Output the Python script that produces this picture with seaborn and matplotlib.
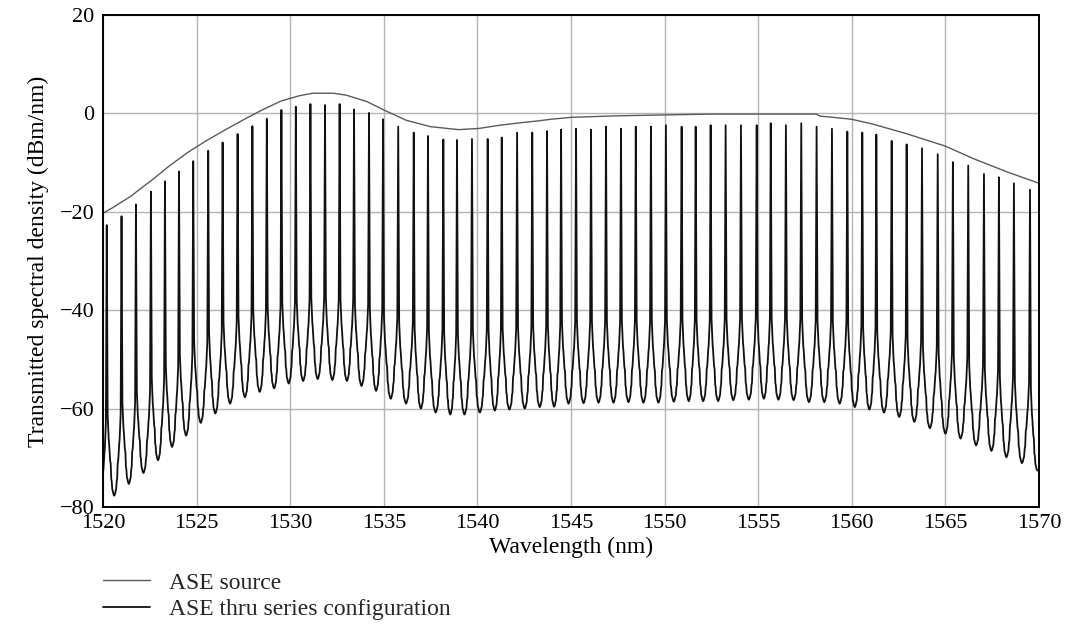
import numpy as np
import pandas as pd
import matplotlib
matplotlib.use("Agg")
import matplotlib.pyplot as plt
import seaborn as sns
from matplotlib.lines import Line2D

# ---------------- data ----------------
# ASE source envelope (wavelength nm, dBm/nm)
env_wl = [1520.0, 1520.5, 1521.0, 1521.5, 1522.0, 1522.6, 1523.5, 1524.5, 1525.5,
          1526.5, 1527.5, 1528.5, 1529.5, 1530.5, 1531.2, 1532.3, 1533.0, 1534.1,
          1535.0, 1536.2, 1537.5, 1539.0, 1540.1, 1541.2, 1542.3, 1543.3, 1543.9,
          1545.0, 1547.4, 1552.4, 1558.1, 1558.3, 1559.0, 1560.0, 1561.15, 1562.9,
          1565.0, 1566.5, 1568.3, 1570.0]
env_db = [-20.3, -19.2, -18.0, -16.8, -15.3, -13.6, -10.8, -8.0, -5.6,
          -3.4, -1.3, 0.7, 2.5, 3.6, 4.1, 4.1, 3.7, 2.4,
          0.7, -1.4, -2.7, -3.3, -3.05, -2.4, -1.9, -1.5, -1.2,
          -0.8, -0.5, -0.14, -0.14, -0.55, -0.8, -1.2, -2.2, -4.1,
          -6.65, -9.2, -11.9, -14.2]

# Comb transmission peaks (wavelength nm, dBm/nm)
peak_wl = [1520.20, 1520.99, 1521.76, 1522.56, 1523.31, 1524.06, 1524.82, 1525.62,
           1526.39, 1527.19, 1527.98, 1528.75, 1529.53, 1530.30, 1531.08, 1531.86,
           1532.64, 1533.41, 1534.21, 1534.96, 1535.77, 1536.60, 1537.36, 1538.18,
           1538.91, 1539.71, 1540.55, 1541.30, 1542.12, 1542.93, 1543.72, 1544.47,
           1545.27, 1546.07, 1546.87, 1547.67, 1548.46, 1549.27, 1550.07, 1550.91,
           1551.66, 1552.46, 1553.26, 1554.08, 1554.92, 1555.67, 1556.48, 1557.30,
           1558.12, 1558.94, 1559.76, 1560.56, 1561.31, 1562.13, 1562.93, 1563.75,
           1564.59, 1565.40, 1566.22, 1567.06, 1567.86, 1568.66, 1569.52]
peak_db = [-22.7, -20.9, -18.5, -15.9, -13.8, -11.8, -9.7, -7.6,
           -5.9, -4.2, -2.6, -1.1, 0.7, 1.35, 1.9, 1.7,
           1.9, 0.8, 0.1, -1.2, -2.7, -3.9, -4.6, -5.3,
           -5.4, -5.2, -5.2, -4.9, -3.9, -3.9, -3.6, -3.3,
           -3.1, -3.3, -2.7, -3.1, -2.7, -2.7, -2.4, -2.7,
           -2.7, -2.4, -2.4, -2.4, -2.4, -2.0, -2.4, -2.0,
           -2.7, -3.1, -3.7, -3.9, -4.3, -5.6, -6.3, -7.1,
           -8.3, -9.9, -10.6, -12.3, -13.0, -14.2, -15.5]

# Troughs: one before the first peak, one between each pair of peaks, one after the last
trough_wl = [1519.81, 1520.60, 1521.38, 1522.16, 1522.94, 1523.69, 1524.44, 1525.22,
             1526.00, 1526.79, 1527.58, 1528.37, 1529.14, 1529.92, 1530.69, 1531.47,
             1532.25, 1533.03, 1533.81, 1534.59, 1535.37, 1536.19, 1536.98, 1537.77,
             1538.55, 1539.31, 1540.13, 1540.93, 1541.71, 1542.53, 1543.33, 1544.10,
             1544.87, 1545.67, 1546.47, 1547.27, 1548.07, 1548.87, 1549.67, 1550.49,
             1551.29, 1552.06, 1552.86, 1553.67, 1554.50, 1555.30, 1556.08, 1556.89,
             1557.71, 1558.53, 1559.35, 1560.16, 1560.94, 1561.72, 1562.53, 1563.34,
             1564.17, 1565.00, 1565.81, 1566.64, 1567.46, 1568.26, 1569.09, 1569.91]
trough_db = [-79.5, -77.7, -75.3, -73.1, -70.5, -67.8, -65.5, -62.9,
             -61.0, -59.0, -57.7, -56.6, -55.9, -54.9, -54.4, -54.0,
             -54.2, -54.4, -55.4, -56.4, -58.0, -59.0, -60.0, -60.8,
             -61.2, -61.2, -60.8, -60.4, -60.2, -60.0, -59.7, -59.6,
             -59.0, -58.9, -58.8, -58.8, -58.7, -58.8, -58.8, -58.6,
             -58.5, -58.5, -58.5, -58.3, -58.2, -58.0, -58.2, -58.3,
             -58.7, -58.7, -59.0, -59.7, -60.2, -60.8, -61.7, -62.7,
             -64.0, -65.1, -66.1, -67.5, -68.6, -69.9, -71.1, -72.6]

# Shape of one flank: fraction of the way from a trough
# to the neighbouring peak, and rise above the trough (dB)
flank_frac = [0.00, 0.10, 0.20, 0.26, 0.34, 0.40, 0.47, 0.55, 0.68, 0.74, 0.88]
flank_rise = [0.0, 0.3, 1.0, 1.3, 3.0, 3.4, 6.5, 7.2, 10.5, 11.5, 16.5]

x_ticks = [1520, 1525, 1530, 1535, 1540, 1545, 1550, 1555, 1560, 1565, 1570]
y_ticks = [-80, -60, -40, -20, 0, 20]

# ---------------- build the comb trace ----------------
xs, ys = [], []
for i, (tw, td) in enumerate(zip(trough_wl, trough_db)):
    if i > 0:
        pw = peak_wl[i - 1]
        for f, r in reversed(list(zip(flank_frac, flank_rise))[1:]):
            xs.append(tw + (pw - tw) * f)
            ys.append(td + r)
    xs.append(tw)
    ys.append(td)
    if i < len(peak_wl):
        pw, pdb = peak_wl[i], peak_db[i]
        for f, r in list(zip(flank_frac, flank_rise))[1:]:
            xs.append(tw + (pw - tw) * f)
            ys.append(td + r)
        xs.append(pw)
        ys.append(pdb)

comb = pd.DataFrame({"wl": xs, "db": ys})
env = pd.DataFrame({"wl": env_wl, "db": env_db})

# ---------------- plot ----------------
sns.set_theme(style="white")
plt.rcParams["font.family"] = ["Liberation Serif", "DejaVu Serif"]
plt.rcParams["axes.unicode_minus"] = True

fig = plt.figure(figsize=(10.79, 6.26), dpi=100)
ax = fig.add_axes([103 / 1079, 1 - 507 / 626, (1039 - 103) / 1079, (507 - 15) / 626])

ax.grid(True, color="#b4b4b4", linewidth=1.0)
ax.set_axisbelow(True)

sns.lineplot(data=env, x="wl", y="db", ax=ax, color="#5a5a5a", linewidth=1.0,
             estimator=None, sort=False)
sns.lineplot(data=comb, x="wl", y="db", ax=ax, color="#111111", linewidth=1.3,
             estimator=None, sort=False)

ax.set_xlim(1520, 1570)
ax.set_ylim(-80, 20)
ax.set_xticks(x_ticks)
ax.set_yticks(y_ticks)
ax.tick_params(axis="both", length=0, labelsize=16, colors="black", pad=6)
ax.tick_params(axis="x", pad=5)
for s in ax.spines.values():
    s.set_color("black")
    s.set_linewidth(1.4)

ax.set_xlabel("Wavelength (nm)", fontsize=17, color="black", labelpad=3)
ax.set_ylabel("Transmitted spectral density (dBm/nm)", fontsize=17, color="black", labelpad=8)

handles = [Line2D([], [], color="#5a5a5a", lw=1.0),
           Line2D([], [], color="#111111", lw=1.3)]
fig.legend(handles, ["ASE source", "ASE thru series configuration"],
           loc="upper left", bbox_to_anchor=(103 / 1079, 1 - 572 / 626),
           frameon=False, fontsize=17, handlelength=2.0, handletextpad=0.8,
           labelspacing=0.22, borderpad=0, borderaxespad=0)

fig.savefig("out.png", dpi=100)
